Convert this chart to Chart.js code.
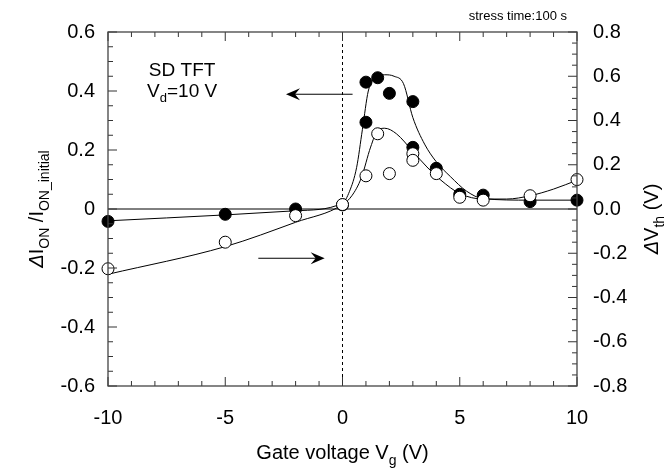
<!DOCTYPE html>
<html><head><meta charset="utf-8">
<script src="https://cdn.jsdelivr.net/npm/chart.js@4/dist/chart.umd.min.js"></script>
<style>html,body{margin:0;padding:0;background:#fff}#wrap{width:671px;height:473px}</style>
</head><body><div id="wrap"><canvas id="c" width="671" height="473"></canvas></div>
<script>
// ---- tick labels ----
const gateTicks = ['-10', '-5', '0', '5', '10'];
const leftTicks = ['-0.6', '-0.4', '-0.2', '0', '0.2', '0.4', '0.6'];
const rightTicks = ['-0.8', '-0.6', '-0.4', '-0.2', '0.0', '0.2', '0.4', '0.6', '0.8'];

// ---- measured points: ΔI_ON / I_ON_initial (filled, left axis) ----
const ionVg   = [-10, -5, -2, 0, 1, 1, 1.5, 2, 3, 3, 4, 5, 6, 8, 10];
const ionVals = [-0.042, -0.018, 0.0, 0.014, 0.43, 0.294, 0.445, 0.392, 0.364, 0.209, 0.138, 0.05, 0.047, 0.025, 0.03];

// ---- measured points: ΔVth (open, right axis) ----
const vthVg   = [-10, -5, -2, 0, 1, 1.5, 2, 3, 3, 4, 5, 6, 8, 10];
const vthVals = [-0.27, -0.15, -0.03, 0.02, 0.15, 0.34, 0.16, 0.25, 0.22, 0.16, 0.053, 0.04, 0.06, 0.133];

// ---- guide curves ----
const ionFitVg   = [-10, -5, -2, 0, 0.3, 0.6, 0.85, 1.1, 1.4, 1.8, 2.2, 2.6, 3.0, 3.5, 4.0, 4.6, 5.3, 6, 8, 10];
const ionFitVals = [-0.04, -0.02, -0.006, 0.02, 0.06, 0.14, 0.27, 0.40, 0.445, 0.455, 0.45, 0.425, 0.31, 0.22, 0.16, 0.11, 0.06, 0.035, 0.03, 0.03];
const vthFitVg   = [-10, -5, -2, 0, 0.4, 0.8, 1.2, 1.5, 1.8, 2.3, 3.0, 3.6, 4.2, 5, 6, 7, 8, 9, 10];
const vthFitVals = [-0.295, -0.17, -0.06, 0.02, 0.06, 0.14, 0.28, 0.355, 0.365, 0.34, 0.26, 0.19, 0.13, 0.07, 0.045, 0.045, 0.06, 0.09, 0.13];

const zip = (xs, ys) => xs.map((x, i) => ({x, y: ys[i]}));
const FAM = '"Liberation Sans", Arial, Helvetica, sans-serif';

function drawRich(ctx, parts, x, y, size, rot, align) {
  ctx.save();
  ctx.translate(x, y);
  ctx.rotate(rot);
  const fontFor = p => (p.italic ? 'italic ' : '') + (p.sub ? Math.round(size * 0.7) : size) + 'px ' + FAM;
  let w = 0;
  const ws = parts.map(p => { ctx.font = fontFor(p); const m = ctx.measureText(p.t).width; w += m; return m; });
  let cx = align === 'center' ? -w / 2 : align === 'right' ? -w : 0;
  ctx.textBaseline = 'alphabetic';
  ctx.textAlign = 'left';
  ctx.fillStyle = '#000';
  parts.forEach((p, i) => { ctx.font = fontFor(p); ctx.fillText(p.t, cx, p.sub ? size * 0.3 : 0); cx += ws[i]; });
  ctx.restore();
}

function arrow(ctx, x1, y1, x2, y2) {
  const ang = Math.atan2(y2 - y1, x2 - x1);
  ctx.beginPath(); ctx.moveTo(x1, y1); ctx.lineTo(x2 - 6 * Math.cos(ang), y2 - 6 * Math.sin(ang)); ctx.stroke();
  ctx.save(); ctx.translate(x2, y2); ctx.rotate(ang);
  ctx.beginPath(); ctx.moveTo(0, 0); ctx.lineTo(-14, -6); ctx.lineTo(-9, 0); ctx.lineTo(-14, 6); ctx.closePath(); ctx.fill();
  ctx.restore();
}

const decor = {
  id: 'decor',
  beforeDatasetsDraw(chart) {
    const {ctx, chartArea: a, scales: {x, y}} = chart;
    ctx.save();
    ctx.strokeStyle = '#000'; ctx.lineWidth = 1;
    const y0 = y.getPixelForValue(0);
    ctx.beginPath(); ctx.moveTo(a.left, y0); ctx.lineTo(a.right, y0); ctx.stroke();
    const x0 = x.getPixelForValue(0);
    ctx.setLineDash([3, 3]);
    ctx.beginPath(); ctx.moveTo(x0, a.top); ctx.lineTo(x0, a.bottom); ctx.stroke();
    ctx.restore();
  },
  afterDraw(chart) {
    const {ctx, chartArea: a, scales: {x, y, y2}} = chart;
    ctx.save();
    ctx.strokeStyle = '#333'; ctx.lineWidth = 1;
    const ln = (x1, y1, x2, y2_) => { ctx.beginPath(); ctx.moveTo(x1, y1); ctx.lineTo(x2, y2_); ctx.stroke(); };
    for (let v = -10; v <= 10; v++) {
      const px = x.getPixelForValue(v); const L = v % 5 === 0 ? 9 : 5;
      ln(px, a.bottom, px, a.bottom - L); ln(px, a.top, px, a.top + L);
    }
    for (let i = 0; i <= 24; i++) {
      const py = y.getPixelForValue(-0.6 + i * 0.05); const L = i % 4 === 0 ? 9 : 5;
      ln(a.left, py, a.left + L, py);
    }
    for (let i = 0; i <= 32; i++) {
      const py = y2.getPixelForValue(-0.8 + i * 0.05); const L = i % 4 === 0 ? 9 : 5;
      ln(a.right, py, a.right - L, py);
    }
    ctx.lineWidth = 1.3; ctx.strokeStyle = '#444';
    ctx.strokeRect(a.left, a.top, a.right - a.left, a.bottom - a.top);

    // arrows
    ctx.strokeStyle = '#000'; ctx.fillStyle = '#000'; ctx.lineWidth = 1;
    arrow(ctx, x.getPixelForValue(0.43), y.getPixelForValue(0.389), x.getPixelForValue(-2.41), y.getPixelForValue(0.389));
    arrow(ctx, x.getPixelForValue(-3.59), y.getPixelForValue(-0.167), x.getPixelForValue(-0.76), y.getPixelForValue(-0.167));

    // texts
    drawRich(ctx, [{t: 'SD TFT'}], x.getPixelForValue(-6.84), y.getPixelForValue(0.475) + 7, 19, 0, 'center');
    drawRich(ctx, [{t: 'V'}, {t: 'd', sub: true}, {t: '=10 V'}], x.getPixelForValue(-6.84), y.getPixelForValue(0.405) + 7, 19, 0, 'center');
    drawRich(ctx, [{t: 'stress time:100 s'}], 567, 20, 13, 0, 'right');

    drawRich(ctx, [{t: 'Gate voltage V'}, {t: 'g', sub: true}, {t: ' (V)'}], (a.left + a.right) / 2, 459, 20, 0, 'center');
    drawRich(ctx, [{t: 'Δ', italic: true}, {t: 'I'}, {t: 'ON', sub: true}, {t: ' /I'}, {t: 'ON_initial', sub: true}], 43, (a.top + a.bottom) / 2, 20, -Math.PI / 2, 'center');
    drawRich(ctx, [{t: 'Δ', italic: true}, {t: 'V'}, {t: 'th', sub: true}, {t: ' (V)'}], 658, 219, 20, -Math.PI / 2, 'center');
    ctx.restore();
  }
};

const tickFont = {family: FAM, size: 20};
new Chart(document.getElementById('c'), {
  type: 'scatter',
  data: {
    datasets: [
      {data: zip(vthVg, vthVals), yAxisID: 'y2', pointRadius: 6, pointHoverRadius: 6, backgroundColor: '#fff', borderColor: '#000', borderWidth: 1, clip: false},
      {data: zip(ionVg, ionVals), yAxisID: 'y', pointRadius: 6, pointHoverRadius: 6, backgroundColor: '#000', borderColor: '#000', borderWidth: 1, clip: false},
      {data: zip(vthFitVg, vthFitVals), yAxisID: 'y2', showLine: true, pointRadius: 0, borderColor: '#000', borderWidth: 1, cubicInterpolationMode: 'monotone'},
      {data: zip(ionFitVg, ionFitVals), yAxisID: 'y', showLine: true, pointRadius: 0, borderColor: '#000', borderWidth: 1, cubicInterpolationMode: 'monotone'}
    ]
  },
  options: {
    responsive: false, animation: false, events: [],
    layout: {padding: {top: 32, left: 0, right: 0, bottom: 0}},
    plugins: {legend: {display: false}, tooltip: {enabled: false}},
    scales: {
      x: {type: 'linear', min: -10, max: 10, grid: {display: false}, border: {display: false},
        ticks: {stepSize: 5, padding: 12, color: '#000', font: tickFont, maxRotation: 0,
          callback: v => gateTicks[Math.round((v + 10) / 5)]},
        afterFit: s => { s.height = 87; }},
      y: {position: 'left', min: -0.6, max: 0.6, grid: {display: false}, border: {display: false},
        ticks: {stepSize: 0.2, padding: 5, color: '#000', font: tickFont,
          callback: v => leftTicks[Math.round((v + 0.6) / 0.2)]},
        afterFit: s => { s.width = 108; }},
      y2: {position: 'right', min: -0.8, max: 0.8, grid: {display: false}, border: {display: false},
        ticks: {stepSize: 0.2, padding: 8, color: '#000', font: tickFont,
          callback: v => rightTicks[Math.round((v + 0.8) / 0.2)]},
        afterFit: s => { s.width = 94; }}
    }
  },
  plugins: [decor]
});
</script></body></html>
